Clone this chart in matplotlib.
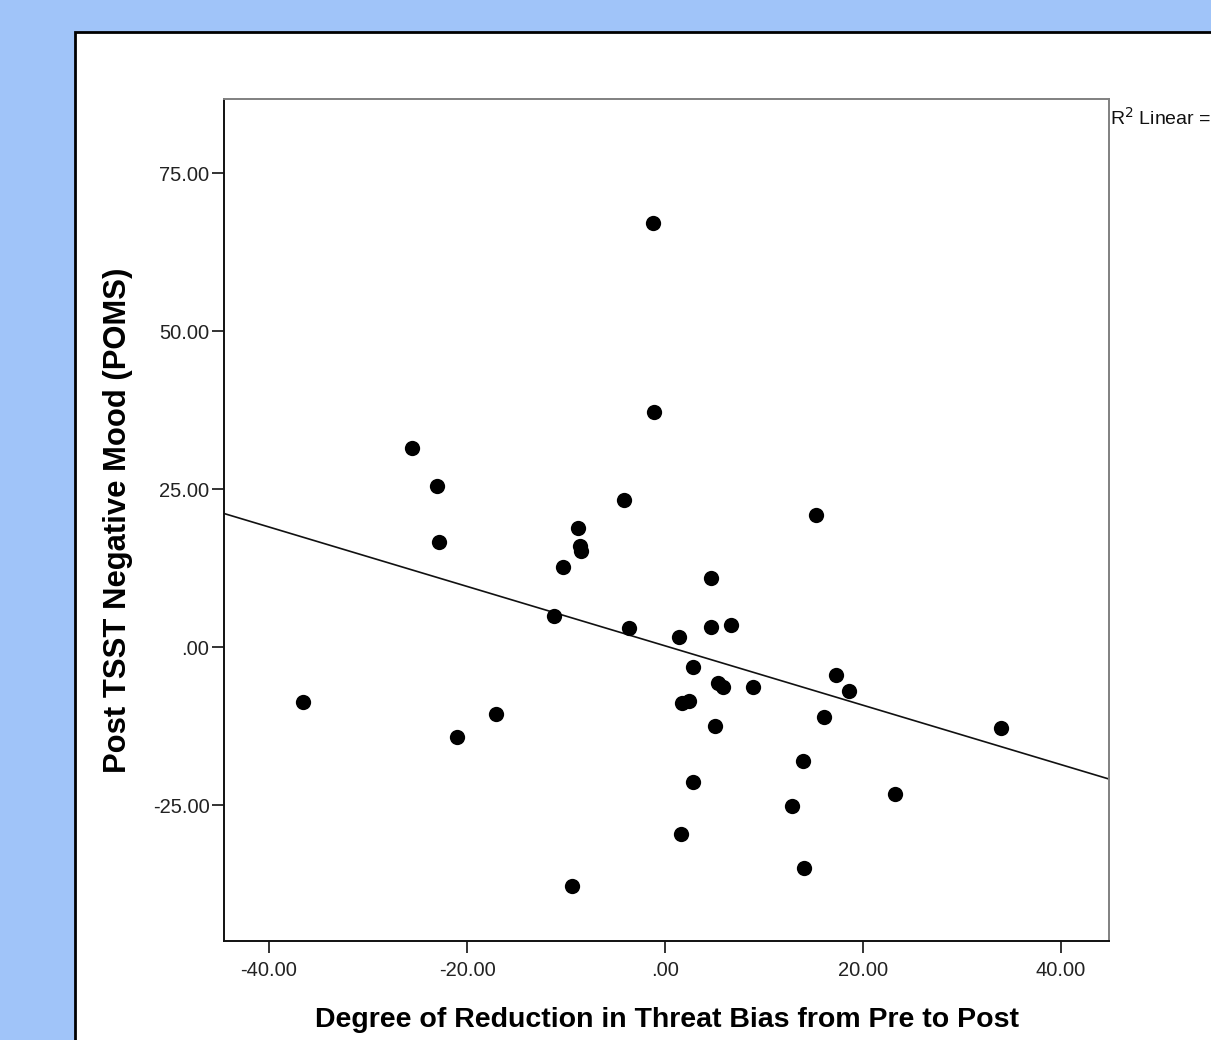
import matplotlib
matplotlib.use("Agg")
import matplotlib.pyplot as plt
from matplotlib.patches import Rectangle

# ---- data ----
x_vals = [-1.24, -1.08, -25.53, -23.06, -22.83, -4.11, 15.25, -8.76, -8.59, -8.48,
          -10.33, 4.65, -11.21, -3.61, 4.62, 6.64, 1.44, 2.80, 17.27, 5.38,
          5.89, 8.92, 18.56, -36.60, 1.69, 2.45, -17.10, 16.06, -20.98, 5.05,
          33.94, 13.97, 2.86, 23.23, 12.80, 1.59, 14.04, -9.39]
y_vals = [67.20, 37.20, 31.52, 25.54, 16.68, 23.32, 20.95, 18.94, 16.04, 15.25,
          12.67, 10.98, 4.97, 3.12, 3.28, 3.50, 1.69, -3.15, -4.32, -5.68,
          -6.22, -6.31, -6.95, -8.64, -8.75, -8.43, -10.54, -10.97, -14.22, -12.44,
          -12.80, -17.93, -21.25, -23.20, -25.05, -29.57, -34.86, -37.75]
fit_slope = -0.470
fit_intercept = 0.25
x_ticks = [-40, -20, 0, 20, 40]
x_tick_labels = ["-40.00", "-20.00", ".00", "20.00", "40.00"]
y_ticks = [-25, 0, 25, 50, 75]
y_tick_labels = ["-25.00", ".00", "25.00", "50.00", "75.00"]
x_label = "Degree of Reduction in Threat Bias from Pre to Post"
y_label = "Post TSST Negative Mood (POMS)"
r2_text = "R$^{2}$ Linear = "

W, H = 1211, 1040
DPI = 100
plt.rcParams['font.family'] = ['Liberation Sans', 'DejaVu Sans']

fig = plt.figure(figsize=(W / DPI, H / DPI), dpi=DPI)
fig.patch.set_facecolor('#a0c4f9')

def fx(px):
    return px / W

def fy(py):
    return 1 - py / H

# white panel with black border (extends past right/bottom edge)
panel = Rectangle((fx(75), -0.1), 1.2, fy(31.5) + 0.1, transform=fig.transFigure,
                  facecolor='white', edgecolor='black', linewidth=2.0, zorder=-5)
fig.patches.append(panel)

ax_l, ax_r, ax_t, ax_b = 224, 1109, 98.5, 941
ax = fig.add_axes([fx(ax_l), fy(ax_b), fx(ax_r) - fx(ax_l), fy(ax_t) - fy(ax_b)])
ax.set_zorder(2)
ax.set_facecolor('white')

X0, XS = 665.0, 9.9     # pixel of x=0, px per unit
Y0, YS = 647.4, 6.32    # pixel of y=0, px per unit
xlim = ((ax_l - X0) / XS, (ax_r - X0) / XS)
ylim = ((Y0 - ax_b) / YS, (Y0 - ax_t) / YS)
ax.set_xlim(*xlim)
ax.set_ylim(*ylim)

ax.plot(x_vals, y_vals, 'o', color='black', markersize=11, markeredgewidth=0, zorder=3)
lx = list(xlim)
ly = [fit_intercept + fit_slope * v for v in lx]
ax.plot(lx, ly, color='#111111', linewidth=1.2, zorder=2, clip_on=True)

for s in ['left', 'bottom']:
    ax.spines[s].set_color('#111111')
    ax.spines[s].set_linewidth(1.4)
for s in ['top', 'right']:
    ax.spines[s].set_color('#808080')
    ax.spines[s].set_linewidth(1.4)

ax.set_xticks(x_ticks)
ax.set_xticklabels(x_tick_labels)
ax.set_yticks(y_ticks)
ax.set_yticklabels(y_tick_labels)
ax.tick_params(axis='both', direction='out', length=8.5, width=1.2, colors='#111111',
               labelsize=14.5, labelcolor='#222222')
ax.tick_params(axis='x', pad=6)
ax.tick_params(axis='y', pad=2)

fig.text(fx(667), fy(1020), x_label, ha='center', va='center',
         fontsize=20.5, fontweight='bold', color='black', zorder=3)
fig.text(fx(118), fy(520), y_label, ha='center', va='center', rotation=90,
         fontsize=22.3, fontweight='bold', color='black', zorder=3)
fig.text(fx(1110), fy(118), r2_text, ha='left', va='center', fontsize=14, color='#111111',
         zorder=3)

fig.savefig('out.png', dpi=DPI, facecolor=fig.get_facecolor())
